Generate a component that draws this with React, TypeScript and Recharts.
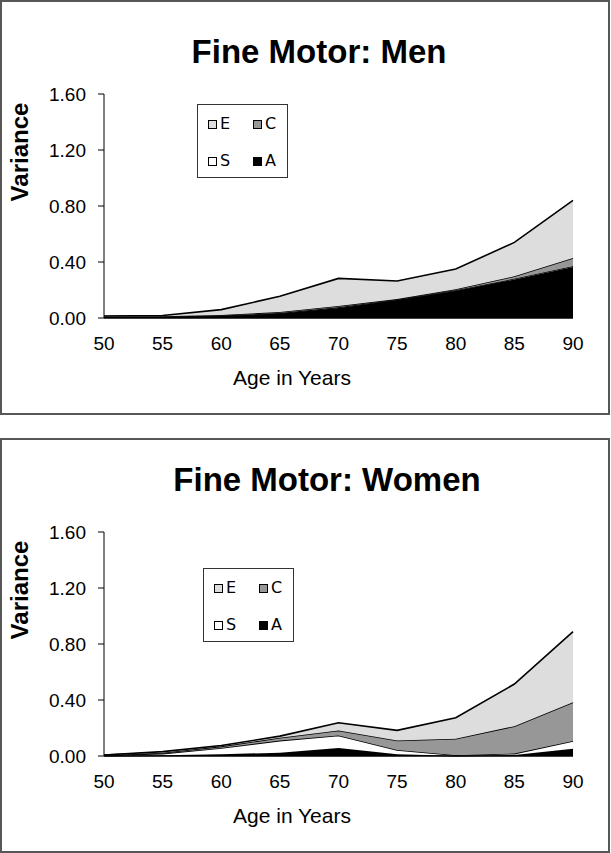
import React from "react"
import { AreaChart, Area, XAxis, YAxis } from "recharts"

const ages = [50, 55, 60, 65, 70, 75, 80, 85, 90]
const yTicks = [0, 0.4, 0.8, 1.2, 1.6]

// men: stacked bottom -> top: A, S, C, E
const menA = [0.008, 0.010, 0.015, 0.032, 0.072, 0.128, 0.195, 0.275, 0.365]
const menS = [0.001, 0.001, 0.002, 0.003, 0.004, 0.003, 0.003, 0.005, 0.005]
const menC = [0.002, 0.002, 0.004, 0.008, 0.010, 0.004, 0.008, 0.018, 0.059]
const menE = [0.003, 0.005, 0.039, 0.112, 0.197, 0.129, 0.144, 0.242, 0.411]

// women
const womenA = [0.003, 0.006, 0.012, 0.024, 0.058, 0.012, 0.002, 0.008, 0.052]
const womenS = [0.002, 0.011, 0.045, 0.086, 0.089, 0.031, 0.003, 0.009, 0.055]
const womenC = [0.001, 0.007, 0.012, 0.020, 0.036, 0.068, 0.118, 0.196, 0.277]
const womenE = [0.001, 0.007, 0.006, 0.012, 0.054, 0.072, 0.150, 0.301, 0.505]

const colors = { E: "#dcdddc", C: "#979797", S: "#ffffff", A: "#000000" }

const font = "'Liberation Sans', Arial, sans-serif"

function buildRows(a: number[], s: number[], c: number[], e: number[]) {
  return ages.map((age, i) => ({ age, A: a[i], S: s[i], C: c[i], E: e[i] }))
}

function LegendBox({ left, top }: { left: number; top: number }) {
  const item = (key: "E" | "C" | "S" | "A", x: number, y: number) => (
    <div key={key} style={{ position: "absolute", left: x, top: y, display: "flex", alignItems: "center" }}>
      <div style={{ width: 7, height: 7, background: colors[key], border: "1px solid #000" }} />
      <span style={{ marginLeft: 3, fontSize: 16, fontFamily: "'DejaVu Sans', sans-serif", lineHeight: "16px" }}>{key}</span>
    </div>
  )
  return (
    <div
      style={{
        position: "absolute",
        left,
        top,
        width: 89,
        height: 72,
        border: "1px solid #333",
        background: "#fff",
      }}
    >
      {item("E", 10, 11)}
      {item("C", 55, 11)}
      {item("S", 10, 48)}
      {item("A", 55, 48)}
    </div>
  )
}

function Panel({
  title,
  titleTop,
  titleX,
  rows,
  legendLeft,
  legendTop,
  top,
}: {
  title: string
  titleTop: number
  titleX: number
  rows: any[]
  legendLeft: number
  legendTop: number
  top: number
}) {
  return (
    <div
      style={{
        position: "absolute",
        left: 0,
        top,
        width: 606,
        height: 411,
        border: "2px solid #575757",
        background: "#fff",
      }}
    >
      <div style={{ position: "absolute", left: -2, top: -2, width: 610, height: 415 }}>
        <AreaChart width={610} height={415} data={rows} margin={{ top: 94, right: 37, bottom: 37, left: 24 }}>
          <XAxis
            dataKey="age"
            type="number"
            domain={[50, 90]}
            ticks={ages}
            tickLine={false}
            tickSize={0}
            tickMargin={19}
            height={60}
            axisLine={{ stroke: "#000", strokeWidth: 1.5 }}
            tick={{ fill: "#000", fontSize: 19, fontFamily: font }}
            interval={0}
          />
          <YAxis
            type="number"
            domain={[0, 1.6]}
            ticks={yTicks}
            width={80}
            tickSize={6}
            tickMargin={12}
            tickFormatter={(v: number) => v.toFixed(2)}
            axisLine={{ stroke: "#000", strokeWidth: 1 }}
            tickLine={{ stroke: "#000" }}
            tick={{ fill: "#000", fontSize: 19, fontFamily: font }}
            interval={0}
          />
          {(["A", "S", "C", "E"] as const).map((k) => (
            <Area
              key={k}
              type="linear"
              dataKey={k}
              stackId="1"
              fill={colors[k]}
              fillOpacity={1}
              stroke="#000"
              strokeWidth={1.6}
              isAnimationActive={false}
              dot={false}
              activeDot={false}
            />
          ))}
        </AreaChart>
        <div
          style={{
            position: "absolute",
            left: titleX,
            top: titleTop,
            transform: "translate(-50%, -50%)",
            fontFamily: font,
            fontWeight: "bold",
            fontSize: 33,
            whiteSpace: "nowrap",
          }}
        >
          {title}
        </div>
        <div
          style={{
            position: "absolute",
            left: 20,
            top: 152,
            transform: "translate(-50%, -50%) rotate(-90deg)",
            fontFamily: font,
            fontWeight: "bold",
            fontSize: 24,
            whiteSpace: "nowrap",
          }}
        >
          Variance
        </div>
        <div
          style={{
            position: "absolute",
            left: 292,
            top: 378,
            transform: "translate(-50%, -50%)",
            fontFamily: font,
            fontSize: 21,
            whiteSpace: "nowrap",
          }}
        >
          Age in Years
        </div>
        <LegendBox left={legendLeft} top={legendTop} />
      </div>
    </div>
  )
}

export default function App() {
  return (
    <div style={{ position: "absolute", left: 0, top: 0, width: 611, height: 853, background: "#fff" }}>
      <Panel
        title="Fine Motor: Men"
        titleTop={52}
        titleX={319}
        rows={buildRows(menA, menS, menC, menE)}
        legendLeft={197}
        legendTop={104}
        top={0}
      />
      <Panel
        title="Fine Motor: Women"
        titleTop={42}
        titleX={327}
        rows={buildRows(womenA, womenS, womenC, womenE)}
        legendLeft={203}
        legendTop={130}
        top={438}
      />
    </div>
  )
}
